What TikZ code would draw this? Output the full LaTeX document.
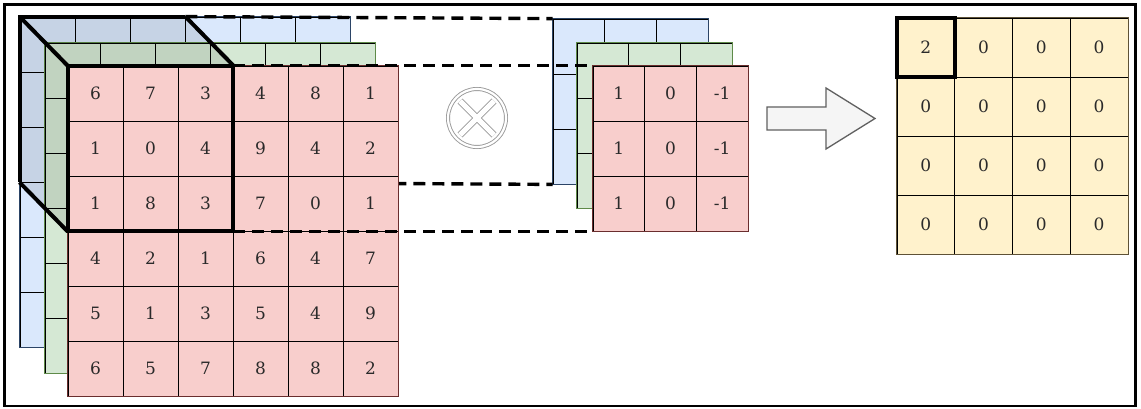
\documentclass[tikz,border=0pt]{standalone}
\usepackage{fontspec}
\setmainfont{DejaVu Serif}
\definecolor{blueF}{HTML}{DAE8FC}
\definecolor{blueD}{HTML}{2B4466}
\definecolor{greenF}{HTML}{D5E8D4}
\definecolor{greenD}{HTML}{5E8A48}
\definecolor{redF}{HTML}{F8CECC}
\definecolor{redD}{HTML}{6A2E2E}
\definecolor{yelF}{HTML}{FFF2CC}
\definecolor{yelD}{HTML}{5E5236}
\definecolor{txt}{HTML}{2A2A2A}
\definecolor{opgray}{HTML}{9A9A9A}
\newcommand\cellfont{\fontsize{17}{20}\selectfont}
\begin{document}
\begin{tikzpicture}[x=1pt,y=-1pt,
  cell/.style={draw=black, line width=0.8pt, inner sep=0pt, text=txt,
    font=\cellfont},
  incell/.style={cell, minimum width=55pt, minimum height=55pt},
  kcell/.style={cell, minimum width=51.67pt, minimum height=55pt},
  ocell/.style={cell, minimum width=57.75pt, minimum height=59pt},
  border/.style={line width=1.6pt},
  window/.style={line width=4pt, line join=miter},
  guide/.style={line width=3.4pt, dash pattern=on 12pt off 7pt}]
\useasboundingbox (0,0) rectangle (1141,409);
\fill[white] (0,0) rectangle (1141,409);
\draw[line width=2.5pt] (4.5,4.5) rectangle (1135.5,406);

% blue input layer
\foreach \r in {0,...,5}
  \foreach \c in {0,...,5}
    \node[incell, fill=blueF] (b-\r-\c) at ({20+55*\c+27.5},{17+55*\r+27.5}) {};
\draw[border, blueD] (b-0-0.north west) rectangle (b-5-5.south east);

% blue kernel layer
\foreach \r in {0,...,2}
  \foreach \c in {0,...,2}
    \node[kcell, fill=blueF] (kb-\r-\c) at ({553+51.67*\c+25.83},{19+55*\r+27.5}) {};
\draw[border, blueD] (kb-0-0.north west) rectangle (kb-2-2.south east);

% guide lines from the back face
\draw[guide] (b-0-2.north east) -- (kb-0-0.north west);
\draw[guide] (b-2-2.south east) -- (kb-2-0.south west);

% green input layer
\foreach \r in {0,...,5}
  \foreach \c in {0,...,5}
    \node[incell, fill=greenF] (g-\r-\c) at ({45+55*\c+27.5},{43+55*\r+27.5}) {};
\draw[border, greenD] (g-0-0.north west) rectangle (g-5-5.south east);

% shaded faces of the window
\fill[black, opacity=0.09] (b-0-0.north west) -- (b-0-2.north east) -- (233,66) -- (68,66) -- cycle;
\fill[black, opacity=0.09] (b-0-0.north west) -- (68,66) -- (68,231) -- (b-2-0.south west) -- cycle;

% red input layer
\foreach \r/\vals in {0/{6,7,3,4,8,1},1/{1,0,4,9,4,2},2/{1,8,3,7,0,1},3/{4,2,1,6,4,7},4/{5,1,3,5,4,9},5/{6,5,7,8,8,2}}
  \foreach \v [count=\c from 0] in \vals
    \node[incell, fill=redF] (r-\r-\c) at ({68+55*\c+27.5},{66+55*\r+27.5}) {\v};
\draw[border, redD] (r-0-0.north west) rectangle (r-5-5.south east);

% window box
\draw[window] (b-2-0.south west) -- (b-0-0.north west) -- (b-0-2.north east);
\draw[window] (b-0-0.north west) -- (r-0-0.north west);
\draw[window] (b-0-2.north east) -- (r-0-2.north east);
\draw[window] (b-2-0.south west) -- (r-2-0.south west);
\draw[window] (r-0-0.north west) rectangle (r-2-2.south east);

% green kernel
\foreach \r in {0,...,2}
  \foreach \c in {0,...,2}
    \node[kcell, fill=greenF] (kg-\r-\c) at ({577+51.67*\c+25.83},{43+55*\r+27.5}) {};
\draw[border, greenD] (kg-0-0.north west) rectangle (kg-2-2.south east);

% red kernel
\foreach \r in {0,...,2}
  \foreach \v [count=\c from 0] in {1,0,-1}
    \node[kcell, fill=redF] (kr-\r-\c) at ({593+51.67*\c+25.83},{66+55*\r+27.5}) {\v};
\draw[border, redD] (kr-0-0.north west) rectangle (kr-2-2.south east);

% front guide lines
\draw[guide] (r-0-2.north east) -- (kr-0-0.north west);
\draw[guide] (r-2-2.south east) -- (kr-2-0.south west);

% convolution operator
\node[circle, draw=opgray, line width=0.9pt, double=white, double distance=2.2pt,
  fill=white, minimum size=58pt, inner sep=0pt] (op) at (477,118) {};
\draw[opgray, line width=7pt] ([shift={(-17,-17)}]op.center) -- ([shift={(17,17)}]op.center)
  ([shift={(-17,17)}]op.center) -- ([shift={(17,-17)}]op.center);
\draw[white, line width=5.2pt] ([shift={(-17,-17)}]op.center) -- ([shift={(17,17)}]op.center)
  ([shift={(-17,17)}]op.center) -- ([shift={(17,-17)}]op.center);

% block arrow
\coordinate (arr) at (767,118.5);
\draw[fill=gray!8, draw=gray!75!black, line width=1.3pt, line join=miter]
  (arr) ++(0,-11.5) -- ++(59,0) -- ++(0,-19) -- (875,118.5) -- (826,149) -- ++(0,-19) -- (767,130) -- cycle;

% output feature map
\foreach \r in {0,...,3}
  \foreach \c in {0,...,3}
    \node[ocell, fill=yelF] (o-\r-\c) at ({897+57.75*\c+28.875},{18+59*\r+29.5}) {0};
\node[ocell, fill=yelF] (o-0-0) at ({897+28.875},{18+29.5}) {2};
\draw[border, yelD] (o-0-0.north west) rectangle (o-3-3.south east);
\draw[window] (o-0-0.north west) rectangle (o-0-0.south east);
\end{tikzpicture}
\end{document}
